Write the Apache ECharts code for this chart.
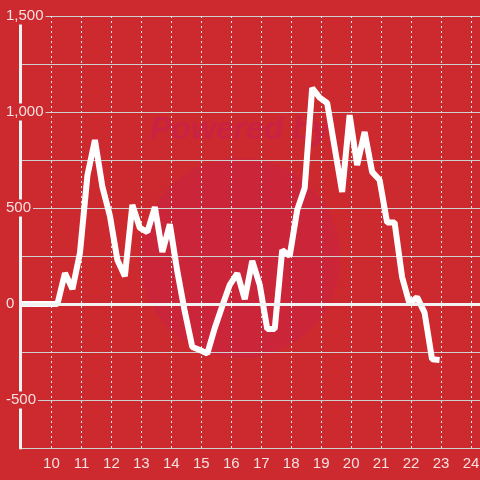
<!DOCTYPE html>
<html>
<head>
<meta charset="utf-8">
<script src="https://cdn.jsdelivr.net/npm/echarts@6/dist/echarts.min.js"></script>
<style>
html,body{margin:0;padding:0;background:#cc2a2f;}
#c{width:480px;height:480px;}
</style>
</head>
<body>
<div id="c"></div>
<script>
var times = [8.95, 9.2, 9.45, 9.7, 9.95, 10.2, 10.45, 10.7, 10.95, 11.2, 11.45, 11.7, 11.95, 12.2, 12.45, 12.7, 12.95, 13.2, 13.45, 13.7, 13.95, 14.2, 14.45, 14.7, 14.95, 15.2, 15.45, 15.7, 15.95, 16.2, 16.45, 16.7, 16.95, 17.2, 17.45, 17.7, 17.95, 18.2, 18.45, 18.7, 18.95, 19.2, 19.45, 19.7, 19.95, 20.2, 20.45, 20.7, 20.95, 21.2, 21.45, 21.7, 21.95, 22.2, 22.45, 22.7, 22.95];
var values = [0, 0, 0, 0, 0, 0, 161, 78, 265, 670, 854, 610, 460, 229, 145, 516, 396, 375, 505, 271, 415, 170, -40, -224, -240, -258, -125, -10, 100, 160, 25, 225, 100, -130, -130, 281, 250, 490, 604, 1125, 1075, 1047, 815, 583, 984, 724, 896, 688, 646, 425, 425, 141, 0, 36, -45, -288, -292];
var yTickLabels = [-500, 0, 500, 1000, 1500];
var xTickLabels = [10, 11, 12, 13, 14, 15, 16, 17, 18, 19, 20, 21, 22, 23, 24];

var data = times.map(function (t, i) { return [t, values[i]]; });
var chart = echarts.init(document.getElementById('c'));
var BG = '#cc2a2f';
var labelColor = 'rgba(255,255,255,0.85)';
function near(list, v) {
  for (var i = 0; i < list.length; i++) { if (Math.abs(list[i] - v) < 1e-6) return list[i]; }
  return null;
}
chart.setOption({
  backgroundColor: BG,
  animation: false,
  graphic: [
    { type: 'circle', shape: { cx: 240, cy: 258, r: 100 }, style: { fill: 'rgba(200,30,80,0.35)' }, z: -1 },
    { type: 'text', left: 150, top: 114, style: { text: 'Powered by', fill: 'rgba(200,30,80,0.6)', font: 'italic bold 32px "Liberation Sans", sans-serif' }, z: -1 }
  ],
  grid: { left: 20, right: 0, top: 16, bottom: 32, containLabel: false, outerBoundsMode: 'none' },
  xAxis: {
    type: 'value', min: 8.95, max: 24.3, minInterval: 1, maxInterval: 1, splitNumber: 15,
    axisLine: { onZero: false, lineStyle: { color: '#cfcfcf', width: 1 } },
    axisTick: { show: false },
    splitLine: { show: true, lineStyle: { color: '#e8e8e8', type: [2, 3], width: 1 } },
    axisLabel: {
      show: true, color: labelColor, fontSize: 15, fontFamily: '"Liberation Sans", Arial, sans-serif', margin: 8,
      hideOverlap: false,
      formatter: function (v) { var n = near(xTickLabels, v); return n === null ? '' : String(n); }
    }
  },
  yAxis: [{
    type: 'value', min: -750, max: 1500, interval: 250, z: 0,
    axisLine: { show: false },
    axisTick: { show: false },
    axisLabel: { show: false },
    splitLine: { show: true, lineStyle: { color: '#cfcfcf', width: 1 } }
  }, {
    type: 'value', min: -750, max: 1500, interval: 250, z: 5, position: 'left',
    axisLine: { show: true, lineStyle: { color: '#f2f2f2', width: 3 } },
    axisTick: { show: false },
    splitLine: { show: false },
    axisLabel: {
      inside: true, margin: -14, color: labelColor, fontSize: 15,
      fontFamily: '"Liberation Sans", Arial, sans-serif',
      backgroundColor: BG, padding: [1, 2, 1, 0],
      formatter: function (v) { var n = near(yTickLabels, v); return n === null ? '' : n.toLocaleString('en-US'); }
    }
  }],
  series: [{
    type: 'line', data: data, yAxisIndex: 0, showSymbol: false, symbol: 'none',
    lineStyle: { color: '#ffffff', width: 6 }, z: 2,
    markLine: {
      silent: true, symbol: 'none', label: { show: false },
      lineStyle: { color: '#f2f2f2', width: 3, type: 'solid' },
      data: [{ yAxis: 0 }]
    }
  }]
});
</script>
</body>
</html>
